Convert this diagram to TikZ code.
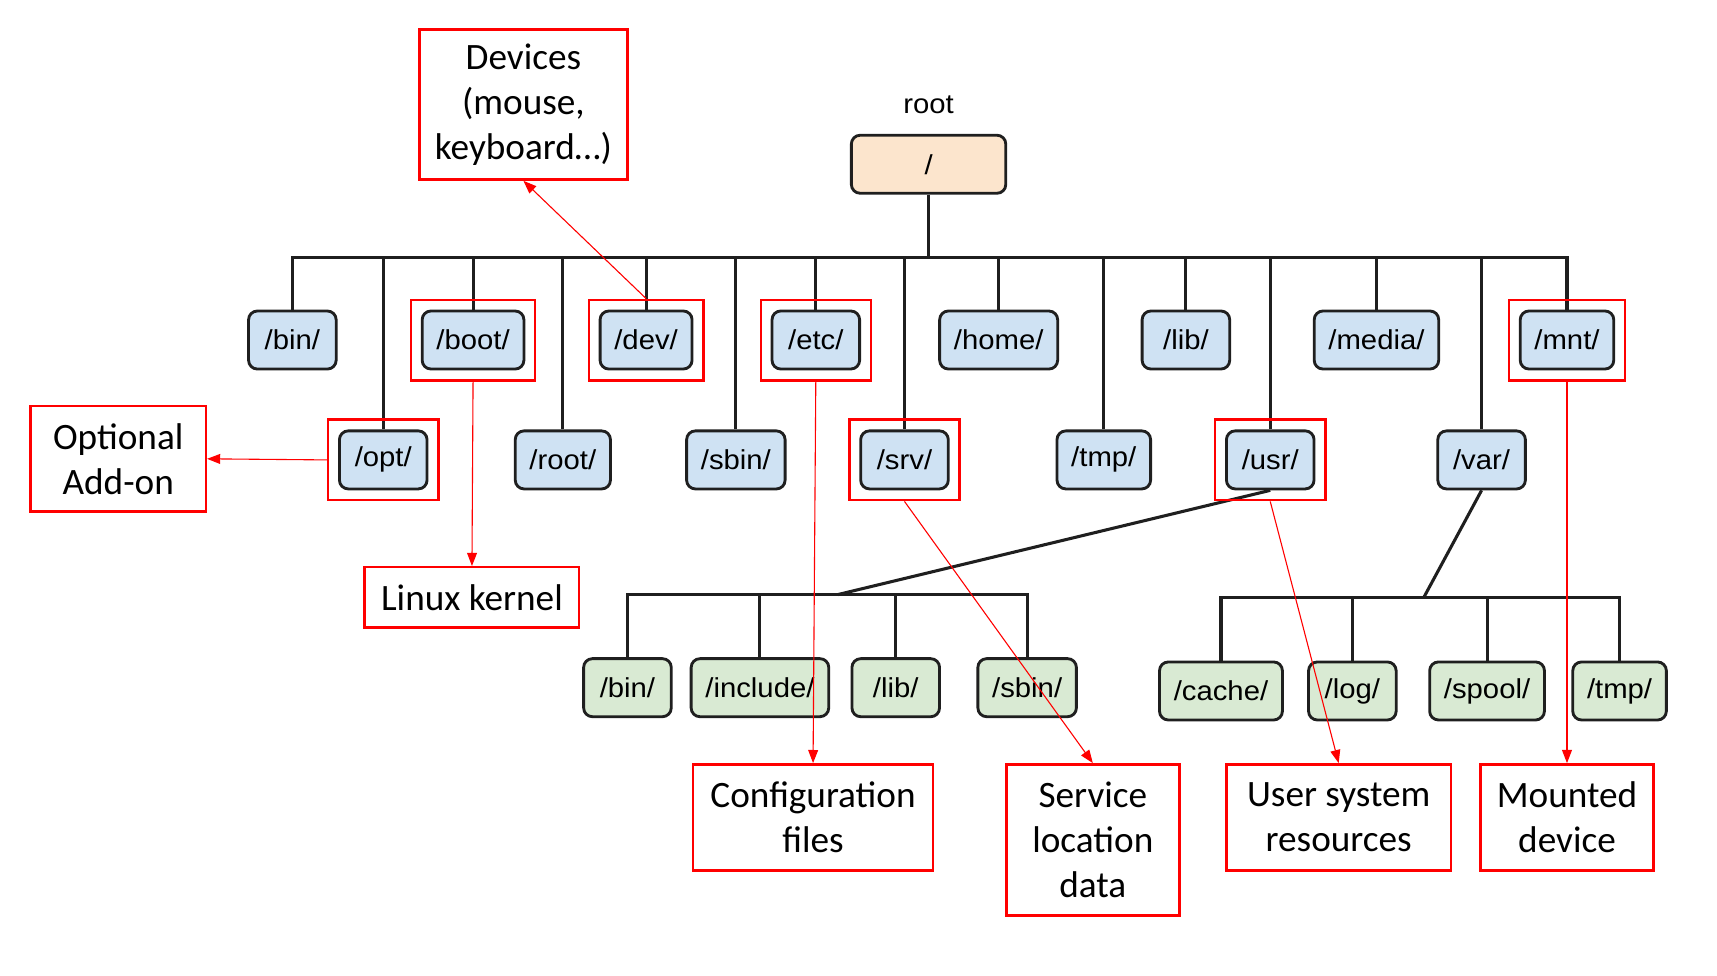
\documentclass[tikz,border=0pt]{standalone}
\usepackage{fontspec}
\newfontfamily\treefont[FakeStretch=1.07]{Liberation Sans}
\newfontfamily\notefont{Carlito}
\usetikzlibrary{arrows.meta,fit}

\definecolor{mappeblaa}{HTML}{CFE2F3}
\definecolor{mappegroenn}{HTML}{D9EAD3}
\definecolor{rotfarge}{HTML}{FCE5CD}
\definecolor{linje}{HTML}{1F1F1F}

\tikzset{
  mappe/.style={draw=linje, line width=2.6pt, rounded corners=8pt, fill=mappeblaa,
    minimum height=53pt, minimum width=80pt, inner xsep=13pt,
    font=\treefont\fontsize{25}{28}\selectfont},
  undermappe/.style={mappe, fill=mappegroenn},
  gren/.style={draw=linje, line width=2.8pt},
  merke/.style={draw=red, line width=2.2pt, inner sep=9pt},
  forklaring/.style={draw=red, line width=2.2pt, align=center, inner sep=0pt,
    font=\notefont\fontsize{34}{41}\selectfont},
  pil/.style={red, line width=1pt, -{Triangle[length=12pt,width=9pt]}}
}

\begin{document}
\begin{tikzpicture}[x=1pt, y=-1pt]
  \useasboundingbox (0,0) rectangle (1568,891);

  % Rota
  \node[font=\treefont\fontsize{25}{28}\selectfont] (rotetikett) at (848,96) {root};
  \node[mappe, fill=rotfarge, minimum width=141pt] (rot) at (848,150) {/};
  \coordinate (bus) at (848,235);

  % Forste rad
  \node[mappe] (bin) at (267,310.5) {/bin/};
  \node[mappe] (boot) at (432,310.5) {/boot/};
  \node[mappe] (dev) at (590,310.5) {/dev/};
  \node[mappe] (etc) at (745,310.5) {/etc/};
  \node[mappe] (home) at (912,310.5) {/home/};
  \node[mappe] (lib) at (1083,310.5) {/lib/};
  \node[mappe] (media) at (1257,310.5) {/media/};
  \node[mappe] (mnt) at (1431,310.5) {/mnt/};

  % Andre rad
  \node[mappe] (opt) at (350,420) {/opt/};
  \node[mappe] (rootdir) at (514,420) {/root/};
  \node[mappe] (sbin) at (672,420) {/sbin/};
  \node[mappe] (srv) at (826,420) {/srv/};
  \node[mappe] (tmp) at (1008,420) {/tmp/};
  \node[mappe] (usr) at (1160,420) {/usr/};
  \node[mappe] (var) at (1353,420) {/var/};

  % Under /usr/
  \coordinate (usrbus) at (765,543);
  \node[undermappe] (ubin) at (573,628) {/bin/};
  \node[undermappe] (uinclude) at (694,628) {/include/};
  \node[undermappe] (ulib) at (818,628) {/lib/};
  \node[undermappe] (usbin) at (938,628) {/sbin/};

  % Under /var/
  \coordinate (varbus) at (1300,546);
  \node[undermappe] (vcache) at (1115,631) {/cache/};
  \node[undermappe] (vlog) at (1235,631) {/log/};
  \node[undermappe] (vspool) at (1358,631) {/spool/};
  \node[undermappe] (vtmp) at (1479,631) {/tmp/};

  % Grener
  \draw[gren] (rot.south) -- (bus);
  \draw[gren] (bin.north) -- (bin.north |- bus) -- (mnt.north |- bus) -- (mnt.north);
  \foreach \n in {boot,dev,etc,home,lib,media,opt,rootdir,sbin,srv,tmp,usr,var}
    \draw[gren] (\n.north) -- (\n.north |- bus);

  \draw[gren] (usr.south) -- (usrbus);
  \draw[gren] (ubin.north) -- (ubin.north |- usrbus) -- (usbin.north |- usrbus) -- (usbin.north);
  \foreach \n in {uinclude,ulib}
    \draw[gren] (\n.north) -- (\n.north |- usrbus);

  \draw[gren] (var.south) -- (varbus);
  \draw[gren] (vcache.north) -- (vcache.north |- varbus) -- (vtmp.north |- varbus) -- (vtmp.north);
  \foreach \n in {vlog,vspool}
    \draw[gren] (\n.north) -- (\n.north |- varbus);

  % Rode markeringer
  \foreach \n in {boot,dev,etc,mnt,opt,srv,usr}
    \node[merke, fit=(\n)] (\n merke) {};

  % Forklaringer
  \node[forklaring, minimum width=190pt, minimum height=137pt] (enheter) at (478,95.5)
    {Devices\\(mouse,\\keyboard…)};
  \node[forklaring, minimum width=160pt, minimum height=96pt] (tillegg) at (108,419)
    {Optional\\Add-on};
  \node[forklaring, minimum width=196pt, minimum height=55pt] (kjerne) at (431,545.5)
    {Linux kernel};
  \node[forklaring, minimum width=219pt, minimum height=97pt] (konfig) at (742.5,746.5)
    {Configuration\\files};
  \node[forklaring, minimum width=158pt, minimum height=138pt] (tjeneste) at (998,767)
    {Service\\location\\data};
  \node[forklaring, minimum width=205pt, minimum height=97pt] (brukar) at (1222.5,746.5)
    {User system\\resources};
  \node[forklaring, minimum width=158pt, minimum height=97pt] (montert) at (1431,746.5)
    {Mounted\\device};

  % Piler
  \draw[pil] (devmerke.north) -- (enheter.south);
  \draw[pil] (optmerke.west) -- (tillegg.east);
  \draw[pil] (bootmerke.south) -- (kjerne.north);
  \draw[pil] (etcmerke.south) -- (konfig.north);
  \draw[pil] (srvmerke.south) -- (tjeneste.north);
  \draw[pil] (usrmerke.south) -- (brukar.north);
  \draw[pil] (mntmerke.south) -- (montert.north);
\end{tikzpicture}
\end{document}
